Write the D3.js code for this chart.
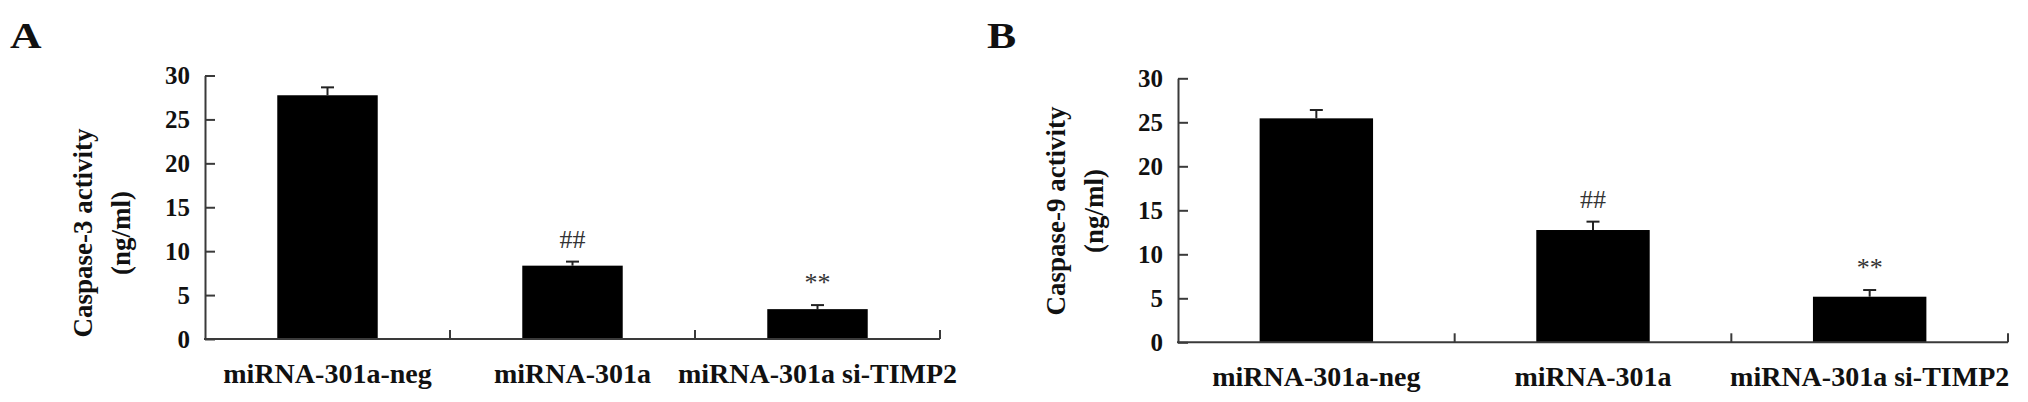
<!DOCTYPE html>
<html>
<head>
<meta charset="utf-8">
<script src="https://cdn.jsdelivr.net/npm/d3@7"></script>
<style>
  html, body { margin: 0; padding: 0; background: #fff; }
  svg { display: block; }
  text { font-family: "Liberation Serif", "Times New Roman", serif; }
</style>
</head>
<body>
<svg id="chart" width="2028" height="402"></svg>
<script>
// ---- data ----
const categories = ["miRNA-301a-neg", "miRNA-301a", "miRNA-301a si-TIMP2"];
const caspase3 = [27.75, 8.35, 3.4];
const caspase3Err = [0.9, 0.46, 0.46];
const caspase9 = [25.45, 12.76, 5.18];
const caspase9Err = [0.95, 0.95, 0.76];
const markers = ["", "##", "**"];
const yTicks = [0, 5, 10, 15, 20, 25, 30];
const yLabels3 = ["Caspase-3 activity", "(ng/ml)"];
const yLabels9 = ["Caspase-9 activity", "(ng/ml)"];

// ---- layout ----
const svg = d3.select("#chart");
const panels = [
  { letter: "A", letterX: 10, values: caspase3, errs: caspase3Err, labels: yLabels3,
    x0: 205, x1: 940, yTop: 75.5, yBottom: 339, labelCY: 233 },
  { letter: "B", letterX: 987, values: caspase9, errs: caspase9Err, labels: yLabels9,
    x0: 1178, x1: 2008, yTop: 78.3, yBottom: 342.3, labelCY: 211 }
];

const axisColor = "#3a3a3a";

panels.forEach(p => {
  const g = svg.append("g");

  // panel letter
  svg.append("text")
    .attr("transform", `translate(${p.letterX},48) scale(1.25,1)`)
    .attr("font-size", 35).attr("font-weight", "bold").attr("fill", "#111")
    .text(p.letter);

  const x = d3.scaleBand().domain(categories).range([p.x0, p.x1])
    .paddingInner(0.59).paddingOuter(0.295);
  const y = d3.scaleLinear().domain([0, 30]).range([p.yBottom, p.yTop]);

  // bars
  g.selectAll("rect.bar").data(categories).join("rect")
    .attr("class", "bar")
    .attr("x", d => x(d))
    .attr("width", x.bandwidth())
    .attr("y", (d, i) => y(p.values[i]))
    .attr("height", (d, i) => y(0) - y(p.values[i]))
    .attr("fill", "#000");

  // error bars
  const cap = 6.5;
  categories.forEach((c, i) => {
    const cx = x(c) + x.bandwidth() / 2;
    const top = y(p.values[i] + p.errs[i]);
    g.append("line").attr("x1", cx).attr("x2", cx)
      .attr("y1", y(p.values[i])).attr("y2", top)
      .attr("stroke", "#222").attr("stroke-width", 2);
    g.append("line").attr("x1", cx - cap).attr("x2", cx + cap)
      .attr("y1", top).attr("y2", top)
      .attr("stroke", "#222").attr("stroke-width", 2);
    if (markers[i]) {
      g.append("text")
        .attr("x", cx).attr("y", top - 14)
        .attr("text-anchor", "middle")
        .attr("font-size", 26).attr("fill", "#333")
        .text(markers[i]);
    }
  });

  // y axis
  const yAxis = d3.axisLeft(y).tickValues(yTicks).tickFormat(d3.format("d"))
    .tickSizeInner(-10).tickSizeOuter(0).tickPadding(15);
  const ya = g.append("g").attr("transform", `translate(${p.x0},0)`).call(yAxis);
  ya.select(".domain").attr("stroke", axisColor).attr("stroke-width", 2);
  ya.selectAll(".tick line").attr("stroke", axisColor).attr("stroke-width", 2);
  ya.selectAll(".tick text")
    .attr("font-family", "'Liberation Serif', 'Times New Roman', serif")
    .attr("font-size", 25).attr("font-weight", "bold").attr("fill", "#111");

  // x axis with labels
  const xAxis = d3.axisBottom(x).tickSize(0).tickPadding(0);
  const xa = g.append("g").attr("transform", `translate(0,${p.yBottom})`).call(xAxis);
  xa.select(".domain").attr("stroke", axisColor).attr("stroke-width", 2)
    .attr("d", `M${p.x0 - 1},0H${p.x1}`);
  xa.selectAll(".tick text")
    .attr("font-family", "'Liberation Serif', 'Times New Roman', serif")
    .attr("font-size", 28).attr("font-weight", "bold").attr("fill", "#111")
    .attr("dy", null).attr("y", 44);

  // boundary ticks between categories (pointing up)
  const bounds = d3.range(1, categories.length + 1).map(k => x.range()[0] + k * x.step());
  g.selectAll("line.bt").data(bounds).join("line")
    .attr("class", "bt")
    .attr("x1", d => d).attr("x2", d => d)
    .attr("y1", p.yBottom).attr("y2", p.yBottom - 9)
    .attr("stroke", axisColor).attr("stroke-width", 2);

  // y axis title (two rotated lines)
  const offs = [113, 75];
  p.labels.forEach((t, k) => {
    const lx = p.x0 - offs[k];
    g.append("text")
      .attr("transform", `translate(${lx},${p.labelCY}) rotate(-90)`)
      .attr("text-anchor", "middle")
      .attr("font-size", 27).attr("font-weight", "bold").attr("fill", "#111")
      .text(t);
  });
});
</script>
</body>
</html>
